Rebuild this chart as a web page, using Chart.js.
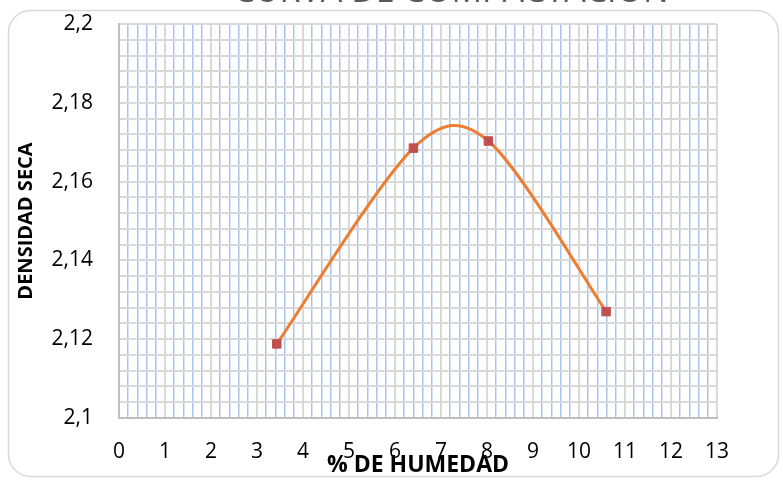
<!DOCTYPE html>
<html>
<head>
<meta charset="utf-8">
<script src="https://cdn.jsdelivr.net/npm/chart.js@4.4.1/dist/chart.umd.min.js"></script>
<style>
  html, body { margin: 0; padding: 0; background: #fff; }
  #chart { display: block; }
</style>
</head>
<body>
<canvas id="chart" width="783" height="480"></canvas>
<script>
// datos del ensayo
const humedad = [3.43, 6.40, 8.03, 10.59];
const densidadSeca = [2.1188, 2.1685, 2.1703, 2.1270];

const xTickLabels = ["0", "1", "2", "3", "4", "5", "6", "7", "8", "9", "10", "11", "12", "13"];
const yTickValues = [2.1, 2.12, 2.14, 2.16, 2.18, 2.2];
const yTickLabels = ["2,1", "2,12", "2,14", "2,16", "2,18", "2,2"];

const titulo = "CURVA DE COMPACTACIÓN";

const GRIS = "#D9D9D9";
const AZUL = "#A9C3EA";

const isWhole = (v) => Math.abs(v - Math.round(v)) < 1e-6;

// marco redondeado y titulo (cortado arriba, como en la imagen)
const marco = {
  id: "marco",
  beforeDraw(chart) {
    const ctx = chart.ctx;
    ctx.save();
    ctx.fillStyle = "#fff";
    ctx.fillRect(0, 0, chart.width, chart.height);
    ctx.strokeStyle = "#D9D9D9";
    ctx.lineWidth = 1.5;
    ctx.beginPath();
    ctx.roundRect(8.5, 10.5, 770, 466, 22);
    ctx.stroke();
    ctx.restore();
  },
  afterDraw(chart) {
    const ctx = chart.ctx;
    ctx.save();
    ctx.font = "34px 'Open Sans'";
    ctx.fillStyle = "#595959";
    ctx.textAlign = "center";
    ctx.textBaseline = "alphabetic";
    ctx.fillText(titulo, 451, 2);
    ctx.restore();
  }
};

// suavizado tipo Excel: tangente (P[i+1]-P[i-1])/6, brazos limitados al largo del tramo
const suavizado = {
  id: "suavizado",
  beforeDatasetsDraw(chart) {
    chart.getSortedVisibleDatasetMetas().forEach((meta) => {
      const line = meta.dataset;
      const pts = meta.data;
      if (!line || pts.length < 2) return;
      line.updateControlPoints(chart.chartArea, "x");
      const n = pts.length;
      const tan = pts.map((p, i) => {
        const a = pts[Math.max(i - 1, 0)];
        const b = pts[Math.min(i + 1, n - 1)];
        return { x: (b.x - a.x) / 6, y: (b.y - a.y) / 6 };
      });
      for (let i = 0; i < n - 1; i++) {
        const p = pts[i], q = pts[i + 1];
        const a = tan[i], b = tan[i + 1];
        const L = Math.hypot(q.x - p.x, q.y - p.y);
        const s = Math.hypot(a.x, a.y) + Math.hypot(b.x, b.y);
        const k = s > L ? L / s : 1;
        p.cp2x = p.x + a.x * k;
        p.cp2y = p.y + a.y * k;
        q.cp1x = q.x - b.x * k;
        q.cp1y = q.y - b.y * k;
      }
    });
  }
};

new Chart(document.getElementById("chart"), {
  type: "line",
  data: {
    datasets: [{
      label: "Densidad seca",
      data: humedad.map((h, i) => ({ x: h, y: densidadSeca[i] })),
      borderColor: "#ED7D31",
      borderWidth: 3,
      tension: 0.4,
      fill: false,
      pointStyle: "rect",
      pointRadius: 6,
      pointBackgroundColor: "#C0504D",
      pointBorderColor: "#C0504D",
      pointBorderWidth: 1
    }]
  },
  options: {
    responsive: false,
    animation: false,
    layout: { padding: { left: 0, top: 24, right: 66, bottom: 0 } },
    plugins: {
      legend: { display: false },
      tooltip: { enabled: false }
    },
    scales: {
      x: {
        type: "linear",
        min: 0,
        max: 13,
        afterFit: (scale) => { scale.height = 62; },
        ticks: {
          stepSize: 0.2,
          autoSkip: false,
          maxRotation: 0,
          minRotation: 0,
          padding: 21,
          color: "#000",
          font: { family: "'Open Sans'", size: 21 },
          callback: (v) => isWhole(v) ? xTickLabels[Math.round(v)] : ""
        },
        grid: {
          drawTicks: false,
          color: (c) => (c.tick && isWhole(c.tick.value)) ? GRIS : AZUL,
          lineWidth: (c) => (c.tick && isWhole(c.tick.value)) ? 2 : 1.5
        },
        border: { display: true, color: "#BFBFBF", width: 2 },
        title: {
          display: true,
          text: "% DE HUMEDAD",
          color: "#000",
          font: { family: "'Open Sans'", size: 23, weight: "bold" },
          padding: { top: 0, bottom: 1 }
        }
      },
      y: {
        min: 2.1,
        max: 2.2,
        afterFit: (scale) => {
          scale.width = 119;
          scale.paddingTop = 0;
          scale.paddingBottom = 0;
        },
        ticks: {
          stepSize: 0.004,
          autoSkip: false,
          padding: 26,
          color: "#000",
          font: { family: "'Open Sans'", size: 21 },
          callback: (v) => {
            const i = yTickValues.findIndex((t) => Math.abs(t - v) < 1e-6);
            return i >= 0 ? yTickLabels[i] : "";
          }
        },
        grid: {
          drawTicks: false,
          color: GRIS,
          lineWidth: 2
        },
        border: { display: true, color: "#BFBFBF", width: 2 },
        title: {
          display: true,
          text: "DENSIDAD SECA",
          color: "#000",
          font: { family: "'Open Sans'", size: 20, weight: "bold" },
          padding: { top: 14, bottom: 0 }
        }
      }
    }
  },
  plugins: [marco, suavizado]
});
</script>
</body>
</html>
